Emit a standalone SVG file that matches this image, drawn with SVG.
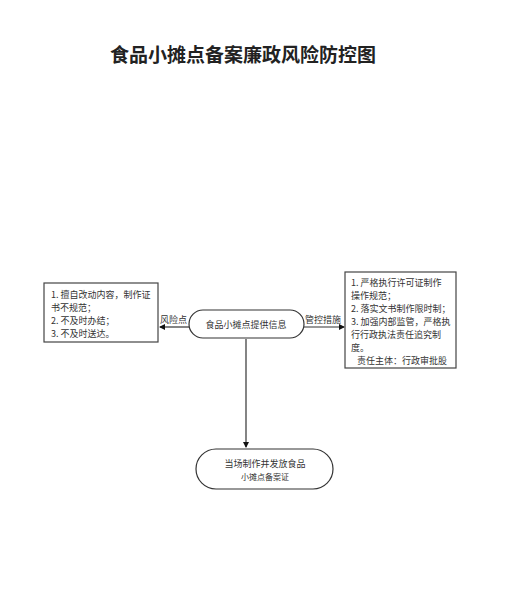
<svg xmlns="http://www.w3.org/2000/svg" width="518" height="601" viewBox="0 0 518 601">
<style>
.t{font-family:"Noto Sans CJK SC","Noto Sans",sans-serif;fill:#333;}
.s{font-size:9px;}
.box{fill:#fff;stroke:#444;stroke-width:1.2;}
.pill{fill:#fff;stroke:#333;stroke-width:1.2;}
.ln{stroke:#333;stroke-width:1.2;fill:none;}
</style>
<defs>
<marker id="ar" markerWidth="6" markerHeight="6" refX="5" refY="3" orient="auto" markerUnits="userSpaceOnUse">
<path d="M0,0 L6,3 L0,6 z" fill="#111"/>
</marker>
</defs>
<rect width="518" height="601" fill="#fff"/>
<text x="243" y="62" text-anchor="middle" class="t" style="font-size:19px;font-weight:bold;fill:#222">食品小摊点备案廉政风险防控图</text>
<g id="connectors">
<line x1="189" y1="327" x2="160" y2="327" class="ln" marker-end="url(#ar)"/>
<line x1="304" y1="327" x2="344" y2="327" class="ln" marker-end="url(#ar)"/>
<line x1="246" y1="339" x2="246" y2="447" class="ln" marker-end="url(#ar)"/>
<text x="160" y="323" class="t s">风险点</text>
<text x="305" y="323" class="t s">管控措施</text>
</g>
<g id="risk">
<rect x="44" y="283" width="114" height="59" class="box"/>
<text class="t s"><tspan x="51" y="298">1. 擅自改动内容，制作证</tspan><tspan x="51" y="311">书不规范；</tspan><tspan x="51" y="324">2. 不及时办结；</tspan><tspan x="51" y="337">3. 不及时送达。</tspan></text>
</g>
<g id="info">
<rect x="189" y="310" width="115" height="28" rx="14" class="pill"/>
<text x="246" y="328" text-anchor="middle" class="t s">食品小摊点提供信息</text>
</g>
<g id="measures">
<rect x="345" y="272" width="111" height="96" class="box"/>
<text class="t s"><tspan x="351" y="286">1. 严格执行许可证制作</tspan><tspan x="351" y="299">操作规范；</tspan><tspan x="351" y="312">2. 落实文书制作限时制；</tspan><tspan x="351" y="325">3. 加强内部监管，严格执</tspan><tspan x="351" y="338">行行政执法责任追究制</tspan><tspan x="351" y="351">度。</tspan><tspan x="357" y="364">责任主体：行政审批股</tspan></text>
</g>
<g id="issue">
<rect x="196" y="449" width="137" height="40" rx="20" class="pill"/>
<text x="265" y="467" text-anchor="middle" class="t s">当场制作并发放食品</text>
<text x="265" y="480" text-anchor="middle" class="t" style="font-size:8px">小摊点备案证</text>
</g>
</svg>
